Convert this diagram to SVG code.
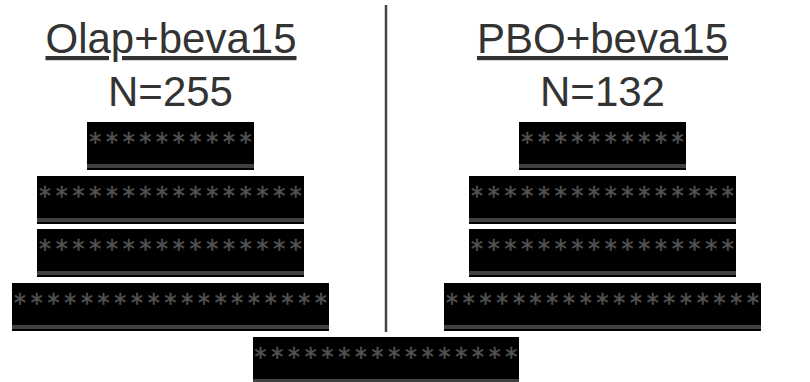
<svg xmlns="http://www.w3.org/2000/svg" width="810" height="382" viewBox="0 0 810 382">
  <style>
    .title { font-family: "Liberation Sans", Arial, sans-serif; font-size: 42px; fill: #333333; text-anchor: middle; }
    .ul { text-decoration: underline; }
    .box { fill: #000000; }
    .bar { fill: #404040; }
    .stars { font-family: "DejaVu Sans Mono", "Liberation Mono", monospace; font-size: 24px; letter-spacing: 2.27px; fill: #525252; stroke: #525252; stroke-width: 0.5; text-anchor: middle; }
    .divider { stroke: #444444; stroke-width: 2.5; }
  </style>
  <rect width="810" height="382" fill="#ffffff"/>

  <!-- column headings -->
  <g id="heading-left">
    <text class="title ul" x="171" y="53">Olap+beva15</text>
    <text class="title" x="170.5" y="106">N=255</text>
  </g>
  <g id="heading-right">
    <text class="title ul" x="602.5" y="53">PBO+beva15</text>
    <text class="title" x="602.5" y="106">N=132</text>
  </g>

  <!-- separator between the two columns -->
  <g id="connectors">
    <line class="divider" x1="386" y1="5" x2="386" y2="332"/>
  </g>

  <!-- left column -->
  <g id="left-1">
    <rect class="box" x="87" y="122" width="167" height="48"/>
    <rect class="bar" x="87" y="164" width="167" height="4"/>
    <text class="stars" x="171.6" y="150">**********</text>
  </g>
  <g id="left-2">
    <rect class="box" x="37" y="176" width="267" height="48"/>
    <rect class="bar" x="37" y="218" width="267" height="4"/>
    <text class="stars" x="171.6" y="204">****************</text>
  </g>
  <g id="left-3">
    <rect class="box" x="37" y="229" width="267" height="48"/>
    <rect class="bar" x="37" y="271" width="267" height="4"/>
    <text class="stars" x="171.6" y="257">****************</text>
  </g>
  <g id="left-4">
    <rect class="box" x="12" y="283" width="317" height="48"/>
    <rect class="bar" x="12" y="325" width="317" height="4"/>
    <text class="stars" x="171.6" y="311">*******************</text>
  </g>

  <!-- right column -->
  <g id="right-1">
    <rect class="box" x="519" y="122" width="167" height="48"/>
    <rect class="bar" x="519" y="164" width="167" height="4"/>
    <text class="stars" x="603.6" y="150">**********</text>
  </g>
  <g id="right-2">
    <rect class="box" x="469" y="176" width="267" height="48"/>
    <rect class="bar" x="469" y="218" width="267" height="4"/>
    <text class="stars" x="603.6" y="204">****************</text>
  </g>
  <g id="right-3">
    <rect class="box" x="469" y="229" width="267" height="48"/>
    <rect class="bar" x="469" y="271" width="267" height="4"/>
    <text class="stars" x="603.6" y="257">****************</text>
  </g>
  <g id="right-4">
    <rect class="box" x="444" y="283" width="317" height="48"/>
    <rect class="bar" x="444" y="325" width="317" height="4"/>
    <text class="stars" x="603.6" y="311">*******************</text>
  </g>

  <!-- bottom, centred under the divider -->
  <g id="bottom">
    <rect class="box" x="253" y="337" width="266" height="48"/>
    <rect class="bar" x="253" y="379" width="266" height="4"/>
    <text class="stars" x="387.1" y="365">****************</text>
  </g>
</svg>
